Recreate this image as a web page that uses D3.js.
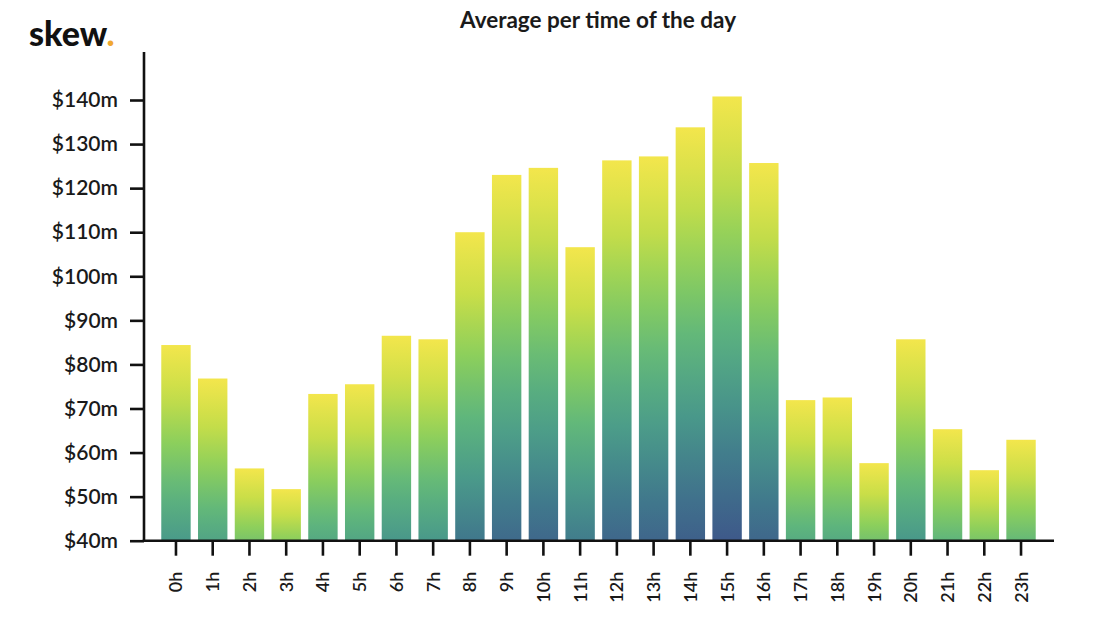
<!DOCTYPE html>
<html>
<head>
<meta charset="utf-8">
<script src="https://cdn.jsdelivr.net/npm/d3@7"></script>
<style>
    body { margin: 0; background: #fff; }
    svg { display: block; font-family: Lato, "Open Sans", sans-serif; }
</style>
</head>
<body>
<div id="chart"></div>
<script>
// hours of the day
var hours = ["0h", "1h", "2h", "3h", "4h", "5h", "6h", "7h", "8h", "9h", "10h", "11h",
    "12h", "13h", "14h", "15h", "16h", "17h", "18h", "19h", "20h", "21h", "22h", "23h"];
// average volume, $m
var averages = [84.4, 76.8, 56.4, 51.7, 73.3, 75.5, 86.5, 85.7, 110.0, 123.0, 124.6, 106.6,
    126.3, 127.2, 133.8, 140.8, 125.7, 71.9, 72.5, 57.6, 85.7, 65.3, 56.0, 62.9];
// y tick values
var yTicks = [40, 50, 60, 70, 80, 90, 100, 110, 120, 130, 140];
// gradient colours, top of bar to bottom of the tallest bar
var palette = ["#f3e64c", "#c9de48", "#8ccf5c", "#5fb67c", "#4a9a8a", "#40788c", "#3e5a8a"];

var width = 1100,
    height = 628,
    left = 144,
    bottom = 540.7,
    axisTop = 52,
    axisRight = 1054;

var svg = d3.select("#chart").append("svg")
    .attr("width", width)
    .attr("height", height);

var x = d3.scaleBand()
    .domain(hours)
    .range([157.6, 1039.4])
    .paddingInner(0.2)
    .paddingOuter(0.1);

var y = d3.scaleLinear()
    .domain([40, 140])
    .range([bottom, 100]);

// how far down the palette a bar's bottom reaches
var depth = d3.scaleSqrt().domain([0, 100]).range([0, 1]);
var colour = d3.piecewise(d3.interpolateRgb, palette);

var defs = svg.append("defs");

averages.forEach(function (v, i) {
    var g = defs.append("linearGradient")
        .attr("id", "grad" + i)
        .attr("x1", 0).attr("y1", 0).attr("x2", 0).attr("y2", 1);
    var end = depth(v - 40);
    d3.range(0, 1.0001, 0.1).forEach(function (o) {
        g.append("stop")
            .attr("offset", o)
            .attr("stop-color", colour(o * end));
    });
});

// bars
svg.append("g").selectAll("rect")
    .data(averages)
    .enter()
    .append("rect")
    .attr("x", function (d, i) { return x(hours[i]); })
    .attr("y", function (d) { return y(d); })
    .attr("width", x.bandwidth())
    .attr("height", function (d) { return bottom - y(d); })
    .attr("fill", function (d, i) { return "url(#grad" + i + ")"; });

// y axis
var yAxis = svg.append("g")
    .attr("transform", "translate(" + left + ",0)")
    .call(d3.axisLeft(y).tickValues(yTicks).tickSize(14).tickPadding(12)
        .tickFormat(function (d) { return "$" + d + "m"; }));
yAxis.attr("font-family", null).attr("font-size", null);
yAxis.select(".domain").remove();
yAxis.selectAll(".tick line").attr("stroke", "#111").attr("stroke-width", 2.6);
yAxis.selectAll(".tick text")
    .attr("fill", "#1a1a1a")
    .style("font-size", "21px")
    .style("font-weight", 600);

svg.append("line")
    .attr("x1", left).attr("x2", left)
    .attr("y1", axisTop).attr("y2", bottom + 1.3)
    .attr("stroke", "#111").attr("stroke-width", 2.6);

// x axis
var xAxis = svg.append("g")
    .attr("transform", "translate(0," + bottom + ")")
    .call(d3.axisBottom(x).tickSize(15).tickPadding(0));
xAxis.attr("font-family", null).attr("font-size", null);
xAxis.select(".domain").remove();
xAxis.selectAll(".tick line").attr("stroke", "#111").attr("stroke-width", 2.6);
xAxis.selectAll(".tick text")
    .attr("transform", "rotate(-90)")
    .attr("text-anchor", "end")
    .attr("x", -31)
    .attr("y", 0)
    .attr("dy", "0.36em")
    .attr("fill", "#1a1a1a")
    .style("font-size", "18px")
    .style("font-weight", 600);

svg.append("line")
    .attr("x1", left - 1.3).attr("x2", axisRight)
    .attr("y1", bottom).attr("y2", bottom)
    .attr("stroke", "#111").attr("stroke-width", 2.6);

// title
svg.append("text")
    .attr("x", 598)
    .attr("y", 28)
    .attr("text-anchor", "middle")
    .attr("fill", "#1a1a1a")
    .style("font-size", "22.5px")
    .style("font-weight", 700)
    .text("Average per time of the day");

// logo
var logo = svg.append("text")
    .attr("x", 29)
    .attr("y", 46)
    .attr("fill", "#111")
    .style("font-size", "34px")
    .style("font-weight", 900);
logo.append("tspan").text("skew");
logo.append("tspan").attr("fill", "#f0a830").text(".");
</script>
</body>
</html>
